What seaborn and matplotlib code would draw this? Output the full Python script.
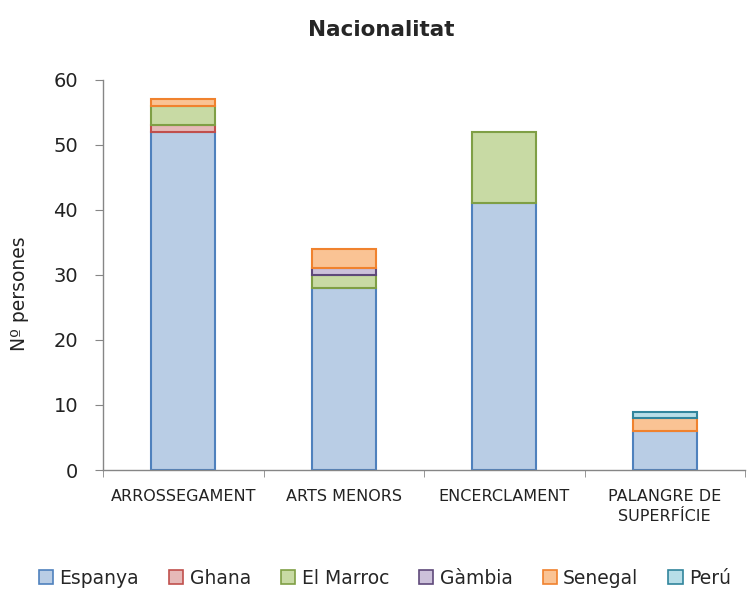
import numpy as np
import pandas as pd
import matplotlib
matplotlib.use("Agg")
import matplotlib.pyplot as plt
import seaborn as sns
from matplotlib.patches import Patch

categories = ["ARROSSEGAMENT", "ARTS MENORS", "ENCERCLAMENT", "PALANGRE DE\nSUPERFÍCIE"]
espanya = [52, 28, 41, 6]
ghana = [1, 0, 0, 0]
marroc = [3, 2, 11, 0]
gambia = [0, 1, 0, 0]
senegal = [1, 3, 0, 2]
peru = [0, 0, 0, 1]

series = ["Espanya", "Ghana", "El Marroc", "Gàmbia", "Senegal", "Perú"]
values = [espanya, ghana, marroc, gambia, senegal, peru]
fills = ["#B9CDE5", "#E6B9B8", "#C8DAA4", "#CCC1DA", "#FAC394", "#B7DEE8"]
edges = ["#4F81BD", "#C0504D", "#7F9F45", "#5F497A", "#F0822E", "#31859C"]

sns.set_style("white")
plt.rcParams["font.family"] = ["DejaVu Sans"]

fig = plt.figure(figsize=(7.49, 5.89), dpi=100)
ax = fig.add_axes([103 / 749, 1 - 470 / 589, 642 / 749, 390 / 589])

bottom = np.zeros(len(categories))
for name, vals, fc, ec in zip(series, values, fills, edges):
    df = pd.DataFrame({"cat": categories, "val": vals, "bot": bottom})
    df = df[df["val"] > 0]
    sns.barplot(data=df, x="cat", y="val", order=categories, bottom=df["bot"].values,
                color=fc, edgecolor=ec, linewidth=1.5, width=0.4, saturation=1, ax=ax)
    bottom = bottom + np.array(vals)

ax.set_xlim(-0.5, 3.5)
ax.set_ylim(0, 60)
ax.set_yticks(range(0, 61, 10))
ax.tick_params(axis="y", labelsize=14, length=6, pad=12, color="#868686",
               direction="out", left=True, labelcolor="#222222")
ax.set_xticks(range(len(categories)))
ax.set_xticklabels(categories, fontsize=11.5, color="#222222", linespacing=1.35)
ax.set_xticks(np.arange(-0.5, 3.6, 1), minor=True)
ax.tick_params(axis="x", which="major", length=0, pad=14)
ax.tick_params(axis="x", which="minor", length=5, color="#868686", bottom=True)
for s in ["top", "right"]:
    ax.spines[s].set_visible(False)
for s in ["left", "bottom"]:
    ax.spines[s].set_color("#868686")
    ax.spines[s].set_linewidth(1)
ax.set_xlabel("")
ax.set_ylabel("")
fig.text(20 / 749, 1 - 294 / 589, "Nº persones", rotation=90, fontsize=13.5,
         ha="center", va="center", color="#222222")
fig.text(381 / 749, 1 - 30 / 589, "Nacionalitat", fontsize=15.5, fontweight="bold",
         ha="center", va="center")

handles = [Patch(facecolor=fc, edgecolor=ec, linewidth=1.2) for fc, ec in zip(fills, edges)]
fig.legend(handles, series, loc="center", bbox_to_anchor=(385 / 749, 1 - 578 / 589), ncol=6,
           frameon=False, fontsize=13.5, handlelength=0.75, handleheight=0.75,
           handletextpad=0.35, columnspacing=1.6, borderpad=0)

fig.savefig("out.png", dpi=100)
